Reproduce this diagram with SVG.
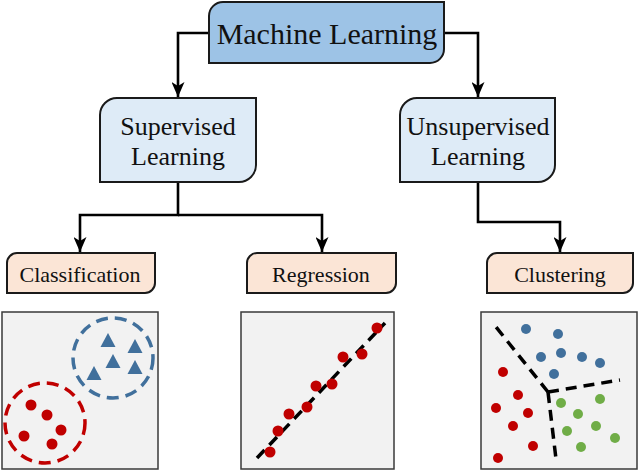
<svg xmlns="http://www.w3.org/2000/svg" width="640" height="471" viewBox="0 0 640 471">
<defs>
<marker id="ah" markerWidth="15" markerHeight="13" refX="15" refY="6.5" orient="auto" markerUnits="userSpaceOnUse" viewBox="0 0 15 13">
<path d="M0,0 L15,6.5 L0,13 L4,6.5 Z" fill="#000"/>
</marker>
<style>
.box{stroke:#1a1a1a;stroke-width:2}
.ml{fill:#9dc3e6}
.sub{fill:#deebf7}
.leaf{fill:#fbe5d6}
.t{font-family:"Liberation Serif","Times New Roman",serif;fill:#111;text-anchor:middle}
.conn{fill:none;stroke:#000;stroke-width:2.6}
.panel{fill:#f2f2f2;stroke:#3a3a3a;stroke-width:1.5}
.rd{fill:#c00000}
.bl{fill:#41709c}
.gr{fill:#70ad47}
</style>
</defs>
<g id="connectors">
<path class="conn" d="M209,33 H178 V97" marker-end="url(#ah)"/>
<path class="conn" d="M444,33 H478 V97" marker-end="url(#ah)"/>
<path class="conn" d="M178,182 V215 H80 V252" marker-end="url(#ah)"/>
<path class="conn" d="M178,215 H322 V252" marker-end="url(#ah)"/>
<path class="conn" d="M478,182 V222 H560 V252" marker-end="url(#ah)"/>
</g>
<g id="machine-learning">
<path class="box ml" d="M223,2 H444 V49 A14,14 0 0 1 430,63 H209 V16 A14,14 0 0 1 223,2 Z"/>
<text class="t" x="327" y="44" font-size="30">Machine Learning</text>
</g>
<g id="supervised">
<path class="box sub" d="M117,98 H256 V165 A17,17 0 0 1 239,182 H100 V115 A17,17 0 0 1 117,98 Z"/>
<text class="t" x="178" y="135" font-size="26">Supervised</text>
<text class="t" x="178" y="165" font-size="26">Learning</text>
</g>
<g id="unsupervised">
<path class="box sub" d="M417,98 H555 V165 A17,17 0 0 1 538,182 H400 V115 A17,17 0 0 1 417,98 Z"/>
<text class="t" x="478" y="135" font-size="26">Unsupervised</text>
<text class="t" x="478" y="165" font-size="26">Learning</text>
</g>
<g id="classification">
<path class="box leaf" d="M17,253 H155 V283 A10,10 0 0 1 145,293 H7 V263 A10,10 0 0 1 17,253 Z"/>
<text class="t" x="80" y="282" font-size="22">Classification</text>
</g>
<g id="regression">
<path class="box leaf" d="M257,253 H396 V283 A10,10 0 0 1 386,293 H247 V263 A10,10 0 0 1 257,253 Z"/>
<text class="t" x="321" y="282" font-size="22">Regression</text>
</g>
<g id="clustering">
<path class="box leaf" d="M497,253 H633 V283 A10,10 0 0 1 623,293 H487 V263 A10,10 0 0 1 497,253 Z"/>
<text class="t" x="560" y="282" font-size="22">Clustering</text>
</g>
<g id="classification-panel">
<rect class="panel" x="2" y="312" width="156" height="157"/>
<circle cx="113" cy="358" r="40" fill="none" stroke="#41709c" stroke-width="3.5" stroke-dasharray="12,7"/>
<circle cx="45" cy="423" r="40" fill="none" stroke="#c00000" stroke-width="3.5" stroke-dasharray="12,7"/>
<g class="bl">
<path d="M108,333 L115.5,347 L100.5,347 Z"/>
<path d="M135,339 L142.5,353 L127.5,353 Z"/>
<path d="M113,354 L120.5,368 L105.5,368 Z"/>
<path d="M135,360 L142.5,374 L127.5,374 Z"/>
<path d="M94,366 L101.5,380 L86.5,380 Z"/>
</g>
<g class="rd">
<circle cx="31" cy="405" r="5.5"/>
<circle cx="47" cy="415" r="5.5"/>
<circle cx="61" cy="430" r="5.5"/>
<circle cx="24" cy="436" r="5.5"/>
<circle cx="52" cy="444" r="5.5"/>
</g>
</g>
<g id="regression-panel">
<rect class="panel" x="241" y="312" width="153" height="157"/>
<line x1="257" y1="458" x2="385" y2="323" stroke="#000" stroke-width="3.5" stroke-dasharray="11,7"/>
<g class="rd">
<circle cx="377" cy="328" r="5.5"/>
<circle cx="362" cy="354" r="5.5"/>
<circle cx="343" cy="357" r="5.5"/>
<circle cx="332" cy="384" r="5.5"/>
<circle cx="316" cy="386" r="5.5"/>
<circle cx="307" cy="407" r="5.5"/>
<circle cx="289" cy="414" r="5.5"/>
<circle cx="278" cy="431" r="5.5"/>
<circle cx="270" cy="452" r="5.5"/>
</g>
</g>
<g id="clustering-panel">
<rect class="panel" x="481" y="312" width="156" height="157"/>
<g stroke="#000" stroke-width="3.5" stroke-dasharray="11,7" fill="none">
<line x1="548" y1="392" x2="492" y2="322"/>
<line x1="548" y1="392" x2="620" y2="380"/>
<line x1="548" y1="392" x2="556" y2="459"/>
</g>
<g class="bl">
<circle cx="526" cy="329" r="5"/>
<circle cx="558" cy="334" r="5"/>
<circle cx="541" cy="357" r="5"/>
<circle cx="561" cy="353" r="5"/>
<circle cx="582" cy="357" r="5"/>
<circle cx="600" cy="363" r="5"/>
<circle cx="554" cy="374" r="5"/>
</g>
<g class="rd">
<circle cx="503" cy="372" r="5"/>
<circle cx="518" cy="395" r="5"/>
<circle cx="496" cy="408" r="5"/>
<circle cx="528" cy="413" r="5"/>
<circle cx="513" cy="426" r="5"/>
<circle cx="533" cy="446" r="5"/>
<circle cx="498" cy="458" r="5"/>
</g>
<g class="gr">
<circle cx="561" cy="403" r="5"/>
<circle cx="600" cy="399" r="5"/>
<circle cx="578" cy="414" r="5"/>
<circle cx="567" cy="431" r="5"/>
<circle cx="596" cy="426" r="5"/>
<circle cx="615" cy="438" r="5"/>
<circle cx="581" cy="447" r="5"/>
</g>
</g>
</svg>
